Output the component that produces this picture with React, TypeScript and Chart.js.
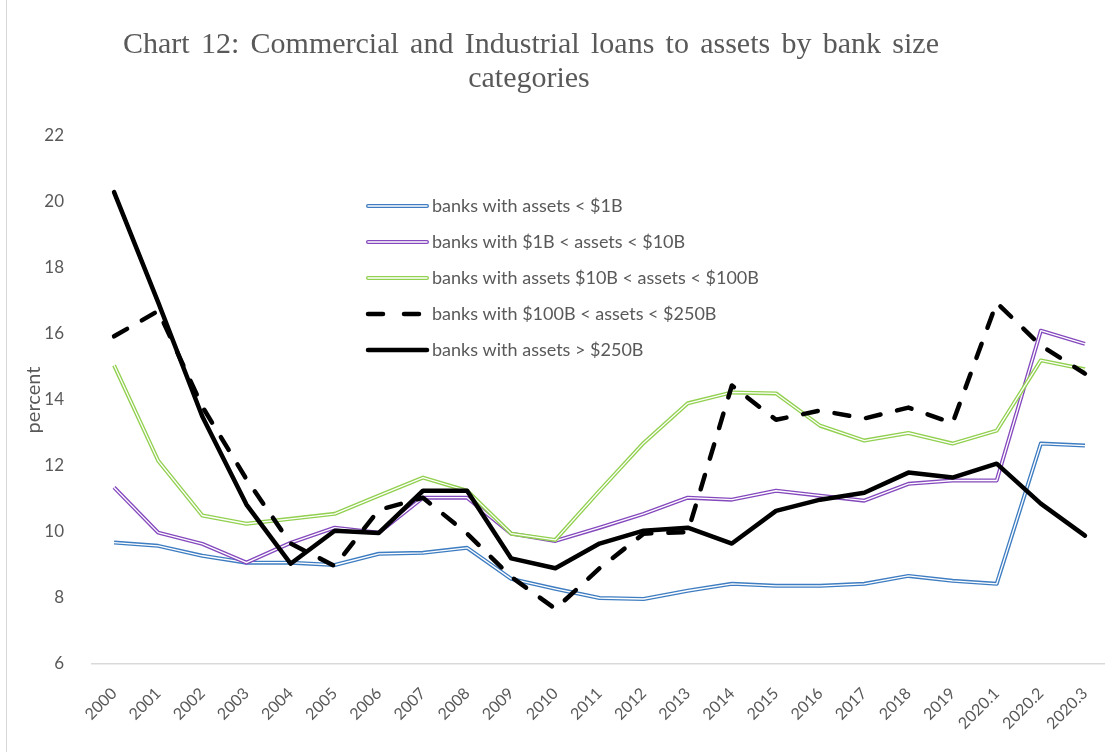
import React, { useEffect, useRef } from 'react';
import { Chart, registerables } from 'chart.js';
Chart.register(...registerables);

const categories = ['2000','2001','2002','2003','2004','2005','2006','2007','2008','2009','2010','2011','2012','2013','2014','2015','2016','2017','2018','2019','2020.1','2020.2','2020.3'];

const seriesNames = [
  'banks with assets < $1B',
  'banks with $1B < assets < $10B',
  'banks with assets $10B < assets < $100B',
  'banks with $100B < assets < $250B',
  'banks with assets > $250B',
];

const under1B = [9.68, 9.58, 9.28, 9.07, 9.07, 9.0, 9.34, 9.37, 9.52, 8.58, 8.28, 8.0, 7.97, 8.22, 8.43, 8.37, 8.37, 8.43, 8.67, 8.52, 8.43, 12.68, 12.62];
const from1To10B = [11.35, 9.98, 9.64, 9.07, 9.67, 10.13, 9.98, 11.04, 11.04, 9.95, 9.73, 10.13, 10.55, 11.04, 10.98, 11.25, 11.1, 10.95, 11.46, 11.56, 11.56, 16.1, 15.7];
const from10To100B = [15.05, 12.16, 10.5, 10.25, 10.4, 10.55, 11.1, 11.65, 11.25, 9.95, 9.76, 11.25, 12.7, 13.9, 14.23, 14.2, 13.22, 12.77, 13.0, 12.68, 13.07, 15.2, 14.93];
const from100To250B = [15.93, 16.7, 13.8, 11.6, 9.65, 8.97, 10.67, 11.04, 9.95, 8.64, 7.67, 8.9, 9.95, 10.0, 14.44, 13.4, 13.68, 13.44, 13.77, 13.3, 16.95, 15.65, 14.8];
const over250B = [20.3, 16.96, 13.5, 10.83, 9.04, 10.04, 9.97, 11.25, 11.25, 9.2, 8.9, 9.65, 10.04, 10.13, 9.65, 10.64, 10.98, 11.19, 11.8, 11.65, 12.07, 10.86, 9.89];

const yTicks = { min: 6, max: 22, step: 2 };

const titleLines = ['Chart 12: Commercial and Industrial loans to assets by bank size', 'categories'];
const yTitle = 'percent';

const BLUE = '#3E7DC1';
const PURPLE = '#8549BE';
const GREEN = '#92D050';
const TEXT = '#595959';
const SANS = 'Lato';

export default function App() {
  const ref = useRef<HTMLCanvasElement>(null);

  useEffect(() => {
    const legendItems = [
      { name: seriesNames[0], color: BLUE, double: true, dash: [] as number[], width: 4 },
      { name: seriesNames[1], color: PURPLE, double: true, dash: [] as number[], width: 4 },
      { name: seriesNames[2], color: GREEN, double: true, dash: [] as number[], width: 4 },
      { name: seriesNames[3], color: '#000', double: false, dash: [15, 21], width: 4.5 },
      { name: seriesNames[4], color: '#000', double: false, dash: [] as number[], width: 4.5 },
    ];

    const overlay = {
      id: 'overlay',
      afterDraw(chart: any) {
        const ctx = chart.ctx;
        ctx.save();
        // title
        ctx.fillStyle = TEXT;
        ctx.font = '30px "Liberation Serif", "Times New Roman", serif';
        ctx.textAlign = 'center';
        ctx.textBaseline = 'alphabetic';
        const targetW = 816;
        const w0 = ctx.measureText(titleLines[0]).width;
        const spaces = titleLines[0].split(' ').length - 1;
        const extra = Math.max(0, (targetW - w0) / spaces);
        (ctx as any).wordSpacing = `${extra}px`;
        ctx.fillText(titleLines[0], 531, 53);
        (ctx as any).wordSpacing = '0px';
        ctx.fillText(titleLines[1], 529, 87);
        // legend
        const x0 = 368, x1 = 427, textX = 432, y0 = 206, dy = 36;
        legendItems.forEach((it, i) => {
          const y = y0 + i * dy;
          ctx.beginPath();
          ctx.setLineDash(it.dash);
          ctx.lineCap = 'round';
          ctx.strokeStyle = it.color;
          ctx.lineWidth = it.width;
          ctx.moveTo(x0, y);
          ctx.lineTo(x1, y);
          ctx.stroke();
          if (it.double) {
            ctx.beginPath();
            ctx.strokeStyle = '#fff';
            ctx.lineWidth = 1.3;
            ctx.moveTo(x0, y);
            ctx.lineTo(x1, y);
            ctx.stroke();
          }
          ctx.setLineDash([]);
          ctx.fillStyle = TEXT;
          ctx.font = `18px ${SANS}`;
          ctx.textAlign = 'left';
          ctx.textBaseline = 'middle';
          ctx.fillText(it.name, textX, y);
        });
        ctx.restore();
      },
    };

    const base = { pointRadius: 0, pointHoverRadius: 0, tension: 0, borderJoinStyle: 'round' as const, fill: false };
    const inner = (data: number[], order: number) => ({ ...base, label: '', data, borderColor: '#ffffff', borderWidth: 1.3, order });

    const chart = new Chart(ref.current!, {
      type: 'line',
      data: {
        labels: categories,
        datasets: [
          { ...base, label: seriesNames[0], data: under1B, borderColor: BLUE, borderWidth: 4, order: 7 },
          inner(under1B, 6),
          { ...base, label: seriesNames[1], data: from1To10B, borderColor: PURPLE, borderWidth: 4, order: 5 },
          inner(from1To10B, 4),
          { ...base, label: seriesNames[2], data: from10To100B, borderColor: GREEN, borderWidth: 4, order: 3 },
          inner(from10To100B, 2),
          { ...base, label: seriesNames[3], data: from100To250B, borderColor: '#000', borderWidth: 4.5, borderDash: [15, 17], borderCapStyle: 'round' as const, order: 1 },
          { ...base, label: seriesNames[4], data: over250B, borderColor: '#000', borderWidth: 4.5, borderCapStyle: 'round' as const, order: 0 },
        ],
      },
      options: {
        animation: false,
        responsive: false,
        events: [],
        layout: { padding: { top: 136, right: 8, bottom: 0, left: 0 } },
        plugins: { legend: { display: false }, title: { display: false }, tooltip: { enabled: false } },
        scales: {
          x: {
            type: 'category',
            offset: true,
            grid: { display: false },
            border: { display: true, color: '#d9d9d9', width: 1.5 },
            ticks: { autoSkip: false, minRotation: 45, maxRotation: 45, padding: 12, color: TEXT, font: { family: SANS, size: 16 } },
            afterFit: (s: any) => { s.height = 88; },
          },
          y: {
            min: yTicks.min,
            max: yTicks.max,
            grid: { display: false },
            border: { display: false },
            ticks: { stepSize: yTicks.step, padding: 20, color: TEXT, font: { family: SANS, size: 17 } },
            title: { display: true, text: yTitle, color: TEXT, font: { family: SANS, size: 20 }, padding: { top: 22, bottom: 0 } },
            afterFit: (s: any) => { s.width = 92; },
          },
        },
      },
      plugins: [overlay],
    });
    return () => chart.destroy();
  }, []);

  return (
    <div style={{ position: 'fixed', left: 0, top: 0, width: 1105, height: 752, overflow: 'hidden', background: '#fff' }}>
      <div style={{ position: 'absolute', left: 6, top: 0, width: 0, height: 752, borderLeft: '1px solid #d9d9d9' }} />
      <canvas ref={ref} width={1115} height={752} style={{ position: 'absolute', left: 0, top: 0, width: 1115, height: 752 }} />
    </div>
  );
}
